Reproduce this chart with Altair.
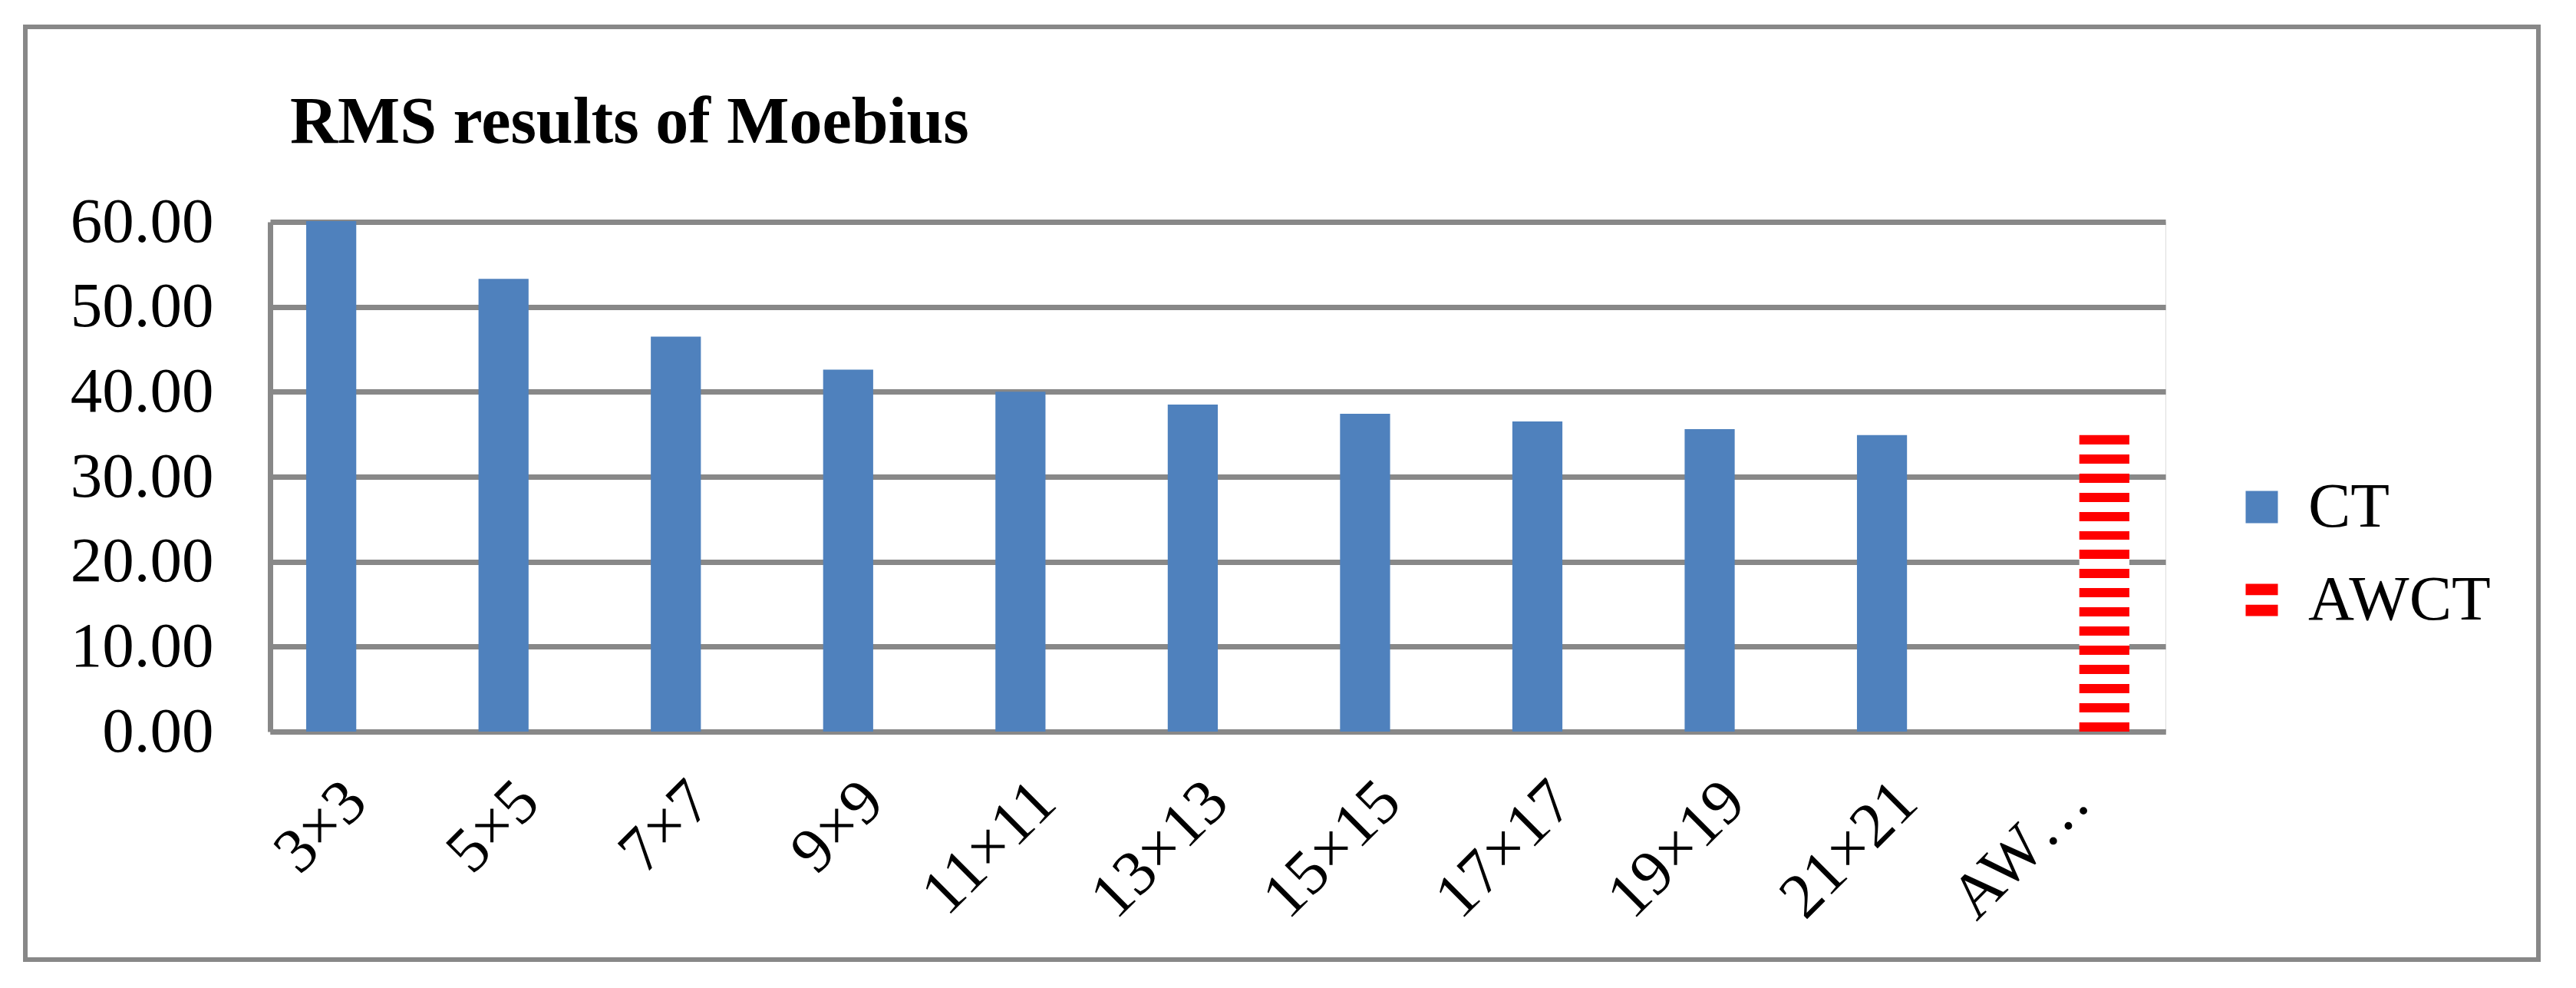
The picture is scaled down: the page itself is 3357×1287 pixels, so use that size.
import altair as alt
import pandas as pd

# ---- data ----
categories = ["3×3", "5×5", "7×7", "9×9", "11×11", "13×13", "15×15",
              "17×17", "19×19", "21×21", "AWCT"]
ct_values = [60.1, 53.3, 46.5, 42.6, 40.0, 38.5, 37.4, 36.5, 35.6, 34.9, None]
awct_values = [None, None, None, None, None, None, None, None, None, None, 34.9]
series_names = ["CT", "AWCT"]
y_ticks = [0, 10, 20, 30, 40, 50, 60]

rows = []
for c, v in zip(categories, ct_values):
    if v is not None:
        rows.append({"category": c, "series": "CT", "value": v})
for c, v in zip(categories, awct_values):
    if v is not None:
        rows.append({"category": c, "series": "AWCT", "value": v})
df = pd.DataFrame(rows)

FONT = "Liberation Serif"
GRID = "#888888"
BLUE = "#4F81BD"
RED = "#FF0000"

# horizontal red/white stripe fill for the AWCT bar
n_stripes = 16
red_frac = 12 / 388
white_frac = (1 - n_stripes * red_frac) / (n_stripes - 1)
stops = []
pos = 0.0
for i in range(n_stripes):
    end = min(pos + red_frac, 1.0)
    stops.append(alt.GradientStop(offset=pos, color=RED))
    stops.append(alt.GradientStop(offset=end, color=RED))
    if i < n_stripes - 1:
        stops.append(alt.GradientStop(offset=end, color="white"))
        nxt = end + white_frac
        stops.append(alt.GradientStop(offset=nxt, color="white"))
        pos = nxt
stripes = alt.LinearGradient(gradient="linear", stops=stops, x1=0, x2=0, y1=0, y2=1)

x_enc = alt.X(
    "category:N", sort=categories,
    scale=alt.Scale(paddingInner=0.419, paddingOuter=0.2095),
    axis=alt.Axis(
        title=None, labelAngle=315, labelAlign="right", labelBaseline="middle",
        labelPadding=78, labelFontSize=83, labelFont=FONT, labelColor="black",
        ticks=False, tickSize=0, domainColor=GRID, domainWidth=7, grid=False,
        labelOverlap=False, labelLimit=1000,
        labelExpr="datum.value == 'AWCT' ? 'AW…' : datum.value",
    ),
)
y_enc = alt.Y(
    "value:Q",
    scale=alt.Scale(domain=[0, 60], nice=False),
    axis=alt.Axis(
        title=None, values=y_ticks, format=".2f", labelFontSize=83,
        labelFont=FONT, labelColor="black", labelPadding=74, labelLimit=1000,
        ticks=False, tickSize=0, domainColor=GRID, domainWidth=7,
        gridColor=GRID, gridWidth=7,
    ),
)
xoff = alt.XOffset("series:N",
                   scale=alt.Scale(domain=series_names, paddingInner=0, paddingOuter=0))

legend = alt.Legend(
    title=None, orient="none", legendX=2554, legendY=330,
    labelFont=FONT, labelFontSize=83, labelColor="black", labelLimit=1000,
    symbolSize=1764, symbolStrokeWidth=0,
    labelOffset=19, rowPadding=37, padding=0,
)
color_scale = alt.Scale(domain=series_names, range=[BLUE, RED])
shape_scale = alt.Scale(domain=series_names,
                        range=["square", "M-1,-1H1V-0.3H-1Z M-1,0.3H1V1H-1Z"])

ct_layer = alt.Chart(df).transform_filter("datum.series == 'CT'").mark_bar().encode(
    x=x_enc, y=y_enc, xOffset=xoff,
    color=alt.Color("series:N", scale=color_scale, legend=legend),
)

awct_layer = alt.Chart(df).transform_filter("datum.series == 'AWCT'").mark_bar(
    fill=stripes, strokeWidth=0
).encode(x=x_enc, y=y_enc, xOffset=xoff)

# legend-only layer (no rows survive the filter)
legend_layer = alt.Chart(df).transform_filter("false").mark_point(
    filled=True, opacity=1, strokeWidth=0
).encode(
    color=alt.Color("series:N", scale=color_scale, legend=legend),
    shape=alt.Shape("series:N", scale=shape_scale, legend=legend),
)

frame = alt.Chart(alt.Data(values=[{}])).mark_rect(
    filled=False, stroke=GRID, strokeWidth=6
).encode(
    x=alt.value(-319), x2=alt.value(2956), y=alt.value(-254), y2=alt.value(961)
)

chart = alt.layer(frame, ct_layer, awct_layer, legend_layer).properties(
    width=2470, height=664,
    autosize=alt.AutoSizeParams(type="none"),
    padding={"left": 344, "top": 281, "right": 527, "bottom": 316},
    title=alt.Title("RMS results of Moebius", anchor="start", frame="group",
                    font=FONT, fontSize=86, fontWeight="bold", color="black",
                    dx=26, baseline="alphabetic", offset=-240),
).configure_view(strokeWidth=0).configure(background="white")

chart.save("out.html", embed_options={"renderer": "svg", "actions": False})
